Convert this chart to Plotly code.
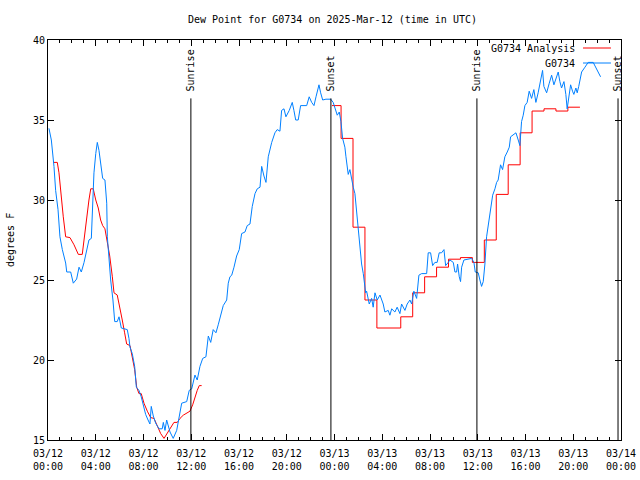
import pandas as pd
import plotly.graph_objects as go

BASE = pd.Timestamp("2025-03-12 00:00")

# Observations (G0734): hours since 03/12 00:00 UTC, dew point (F)
obs_hours = [0.08, 0.28, 0.5, 0.64, 0.84, 1.0, 1.2, 1.48, 1.57, 1.9, 2.12, 2.4, 2.6, 2.79, 3.02, 3.24, 3.43, 3.63,
             3.71, 3.85, 4.0, 4.13, 4.27, 4.41, 4.58, 4.77, 4.92, 4.97, 5.11, 5.25, 5.44, 5.59, 5.8, 5.95, 6.14,
             6.64, 6.78, 6.87, 7.06, 7.26, 7.4, 7.62, 7.81, 8.04, 8.18, 8.38, 8.54, 8.65, 8.82, 9.02, 9.3, 9.57,
             9.66, 9.8, 9.94, 10.22, 10.49, 10.78, 11.06, 11.2, 11.62, 11.83, 12.04, 12.31, 12.5, 12.73, 12.96,
             13.23, 13.43, 13.63, 13.84, 14.07, 14.26, 14.55, 14.68, 14.97, 15.1, 15.24, 15.39, 15.58, 15.8,
             16.02, 16.22, 16.5, 16.69, 16.92, 17.11, 17.34, 17.53, 17.76, 17.9, 18.09, 18.26, 18.45, 18.74,
             19.01, 19.2, 19.43, 19.57, 19.77, 19.93, 20.21, 20.46, 20.6, 20.75, 20.96, 21.16, 21.67, 21.88,
             22.09, 22.28, 22.45, 22.7, 22.84, 23.01, 23.28, 23.68, 23.89, 24.04, 24.23, 24.4, 24.54, 24.68,
             24.87, 24.96, 25.07, 25.15, 25.29, 25.44, 25.57, 25.71, 25.85, 25.99, 26.13, 26.27, 26.41, 26.49,
             26.61, 26.69, 26.91, 27.11, 27.24, 27.39, 27.58, 27.81, 28.08, 28.22, 28.5, 28.64, 28.79, 29.06,
             29.25, 29.48, 29.62, 29.9, 30.09, 30.32, 30.46, 30.65, 30.88, 31.07, 31.3, 31.72, 31.85, 32.05,
             32.22, 32.41, 32.6, 32.77, 32.97, 33.17, 33.31, 33.53, 33.67, 33.95, 34.09, 34.23, 34.31, 34.45,
             34.56, 34.65, 34.84, 35.49, 35.68, 35.79, 36.04, 36.18, 36.32, 36.46, 36.6, 36.74, 36.88, 37.08,
             37.25, 37.44, 37.58, 37.71, 37.91, 38.08, 38.27, 38.47, 38.64, 38.75, 38.97, 39.2, 39.39, 39.53,
             39.67, 39.81, 39.95, 40.14, 40.31, 40.51, 40.7, 40.87, 41.06, 41.26, 41.43, 41.54, 41.77, 41.99,
             42.19, 42.38, 42.55, 42.74, 42.88, 43.02, 43.22, 43.38, 43.49, 43.63, 43.78, 43.94, 44.05, 44.22,
             44.33, 44.46, 44.56, 44.7, 44.98, 45.25, 45.67, 45.96, 46.29]
obs_values = [34.48, 33.75, 32.1, 30.6, 29.4, 27.7, 26.9, 26.06, 25.5, 25.5, 24.8, 25.06, 25.8, 25.5, 26.1, 26.9,
              27.5, 27.6, 29.4, 31.7, 32.9, 33.6, 33.1, 32.3, 31.35, 31.25, 29.8, 27.7, 26.0, 25.0, 23.75, 22.4,
              22.4, 22.7, 22.0, 21.9, 21.35, 20.8, 20.4, 19.6, 18.3, 18.1, 17.7, 17.1, 16.6, 16.25, 16.0, 17.1,
              16.5, 16.05, 15.7, 15.7, 16.1, 15.6, 16.25, 15.5, 15.1, 15.6, 16.7, 17.3, 17.4, 18.1, 18.2, 19.06,
              18.75, 19.6, 20.1, 20.2, 21.5, 21.1, 21.9, 21.7, 22.2, 23.1, 23.4, 23.75, 24.8, 25.2, 25.3, 25.8,
              26.5, 26.9, 27.9, 28.0, 28.4, 28.5, 29.6, 30.4, 30.7, 30.8, 32.1, 31.5, 31.1, 32.7, 33.6, 34.2,
              34.4, 34.3, 35.6, 35.7, 35.2, 35.6, 36.1, 35.6, 35.0, 35.0, 35.9, 35.9, 36.45, 36.1, 35.9, 36.45,
              37.2, 36.7, 36.25, 36.3, 36.3, 36.1, 35.8, 35.3, 35.5, 34.9, 33.85, 33.3, 32.7, 31.9, 31.6, 31.9,
              31.25, 30.8, 30.4, 29.2, 28.1, 27.3, 26.0, 25.4, 24.8, 24.2, 24.3, 23.5, 23.85, 23.3, 24.2, 23.75,
              24.06, 23.5, 23.0, 23.1, 22.8, 23.2, 23.0, 23.3, 22.9, 23.5, 23.1, 23.5, 23.75, 23.5, 24.3, 23.85,
              25.3, 25.4, 25.4, 26.7, 26.7, 25.9, 26.1, 26.1, 26.7, 26.7, 26.9, 25.9, 26.1, 26.25, 26.1, 25.5,
              25.5, 26.0, 25.2, 24.9, 25.8, 26.25, 26.35, 26.1, 25.5, 25.45, 25.0, 24.6, 24.9, 26.0, 27.7, 28.4,
              29.7, 30.3, 30.7, 31.1, 31.25, 32.2, 31.9, 32.7, 33.0, 33.3, 33.95, 34.06, 34.2, 33.75, 33.4, 34.9,
              35.3, 35.9, 36.1, 36.8, 36.35, 36.9, 36.1, 36.7, 37.4, 38.1, 37.1, 36.7, 37.3, 37.8, 37.2, 37.6,
              38.0, 37.4, 37.0, 37.4, 36.6, 35.7, 36.45, 37.2, 36.8, 36.6, 37.0, 36.7, 37.1, 37.5, 38.0, 38.3,
              38.6, 38.6, 38.2, 37.7]

# Analysis, day 1 (linear)
ana1_hours = [0.44, 0.78, 0.92, 1.11, 1.28, 1.48, 1.84, 2.18, 2.54, 2.87, 3.02, 3.24, 3.43, 3.58, 3.79, 4.0,
              4.21, 4.41, 4.58, 4.77, 4.97, 5.17, 5.39, 5.53, 5.8, 6.03, 6.22, 6.42, 6.59, 6.87, 7.06, 7.26,
              7.43, 7.62, 7.81, 8.04, 8.32, 8.6, 8.88, 9.15, 9.44, 9.72, 9.8, 10.08, 10.36, 10.55, 10.83, 11.06,
              11.33, 11.62, 11.89, 12.12, 12.31, 12.5, 12.67, 12.87]
ana1_values = [32.35, 32.35, 31.7, 30.0, 28.95, 27.7, 27.65, 27.2, 26.6, 26.6, 27.6, 28.95, 30.0, 30.7, 30.7,
               30.0, 29.5, 28.75, 28.4, 28.2, 27.3, 26.5, 25.2, 24.2, 24.06, 23.3, 22.5, 21.7, 21.0, 20.9, 20.2,
               19.4, 18.3, 17.9, 17.9, 17.3, 16.8, 16.4, 16.35, 15.9, 15.4, 15.1, 15.2, 15.5, 15.9, 16.1, 16.1,
               16.35, 16.55, 16.7, 16.8, 17.2, 17.7, 18.1, 18.4, 18.4]

# Analysis, day 2 (hourly steps)
ana2_hours = [23.79, 24.55, 25.55, 26.55, 27.55, 29.55, 30.55, 31.55, 32.55, 33.55, 34.55, 35.55, 36.55, 37.55,
              38.55, 39.55, 40.55, 41.55, 42.55, 43.55, 44.56]
ana2_values = [35.9, 33.85, 28.3, 23.75, 22.0, 22.7, 24.2, 25.2, 25.8, 26.3, 26.4, 26.1, 27.5, 30.35, 32.2,
               34.2, 35.56, 35.7, 35.56, 35.8, 35.8]

sun_hours = [11.97, 23.7, 35.93, 47.75]
sun_labels = ["Sunrise", "Sunset", "Sunrise", "Sunset"]

tick_hours = list(range(0, 49, 4))


def t(hours):
    return BASE + pd.to_timedelta(hours, unit="h")


FONT = "DejaVu Sans Mono"
RED = "#ff0000"
BLUE = "#0080ff"

fig = go.Figure()
fig.add_trace(go.Scatter(x=t(ana1_hours), y=ana1_values, mode="lines",
                         line=dict(color=RED, width=1), showlegend=False))
fig.add_trace(go.Scatter(x=t(ana2_hours), y=ana2_values, mode="lines",
                         line=dict(color=RED, width=1, shape="hv"), showlegend=False))
fig.add_trace(go.Scatter(x=t(obs_hours), y=obs_values, mode="lines",
                         line=dict(color=BLUE, width=1), showlegend=False))

for h, lab in zip(sun_hours, sun_labels):
    ts = t([h])[0]
    fig.add_shape(type="line", xref="x", yref="y", x0=ts, x1=ts, y0=15, y1=36.35,
                  line=dict(color="black", width=1))
    fig.add_annotation(x=ts, y=36.65, xref="x", yref="y", text=lab, textangle=-90,
                       showarrow=False, xanchor="center", yanchor="bottom",
                       font=dict(family=FONT, size=10, color="black"))

# manual legend (text right, sample line on the right)
legend_items = [("G0734 Analysis", RED, 0.98), ("G0734", BLUE, 0.9425)]
for name, col, yy in legend_items:
    fig.add_annotation(x=0.924, y=yy, xref="paper", yref="paper", text=name, showarrow=False,
                       xanchor="right", yanchor="middle", font=dict(family=FONT, size=10, color="black"))
    fig.add_shape(type="line", xref="paper", yref="paper", x0=0.9337, x1=0.9825, y0=yy, y1=yy,
                  line=dict(color=col, width=1))

# y-axis title
fig.add_annotation(x=-0.0663, y=0.5, xref="paper", yref="paper", text="degrees F", textangle=-90,
                   showarrow=False, xanchor="center", yanchor="middle",
                   font=dict(family=FONT, size=10, color="black"))

tickvals = t(tick_hours)
ticktext = [f"{d:%m/%d}<br>{d:%H:%M}" for d in tickvals]

fig.update_layout(
    width=640, height=480,
    margin=dict(l=48, r=19, t=40, b=40, autoexpand=False),
    paper_bgcolor="white", plot_bgcolor="white",
    font=dict(family=FONT, size=10, color="black"),
    title=dict(text="Dew Point for G0734 on 2025-Mar-12 (time in UTC)", x=0.5195, xref="container",
               xanchor="center", y=0.9604, yanchor="middle", font=dict(family=FONT, size=10, color="black")),
)
fig.update_xaxes(range=[t([0])[0], t([48])[0]], tickvals=tickvals, ticktext=ticktext, automargin=False,
                 ticks="inside", ticklen=6, tickcolor="black", showline=True, linecolor="black", linewidth=1,
                 mirror="allticks", showgrid=False, zeroline=False, ticklabelstandoff=4,
                 minor=dict(dtick=3600000, ticks="inside", ticklen=3, tickcolor="black", showgrid=False),
                 tickfont=dict(family=FONT, size=10, color="black"))
fig.update_yaxes(range=[15, 40], dtick=5, tick0=15, ticks="inside", ticklen=6, tickcolor="black",
                 automargin=False,
                 showline=True, linecolor="black", linewidth=1, mirror="allticks", showgrid=False,
                 zeroline=False, tickfont=dict(family=FONT, size=10, color="black"))

# remove the browser's default 8px body margin so the figure sits at the page origin
fig.write_html("out.html", config={"displayModeBar": False},
               post_script="document.body.style.margin='0';")
